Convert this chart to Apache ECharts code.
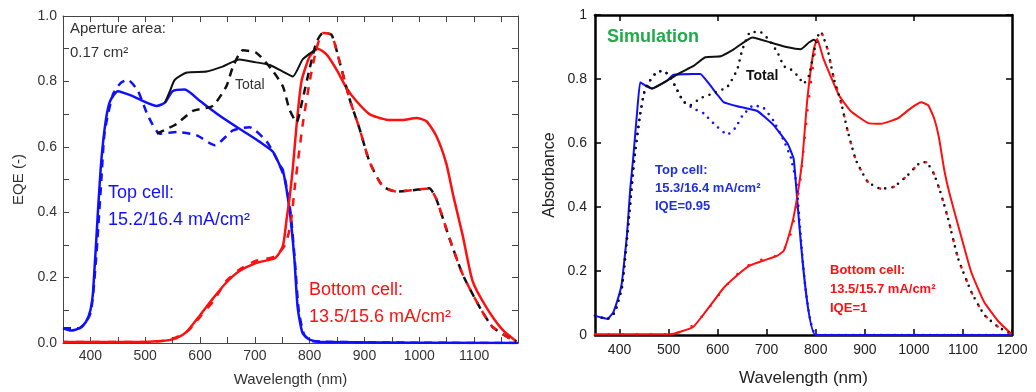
<!DOCTYPE html>
<html><head><meta charset="utf-8">
<script src="https://cdn.jsdelivr.net/npm/echarts@6/dist/echarts.min.js"></script>
<style>html,body{margin:0;padding:0;background:#fff}#c{width:1036px;height:392px}</style>
</head><body><div id="c"></div>
<script>
// ---------- Left panel (measured EQE) ----------
const leftXLabels = [400, 500, 600, 700, 800, 900, 1000, 1100];
const leftXTickMarks = [400, 450, 500, 550, 600, 650, 700, 750, 800, 850, 900, 950, 1000, 1050, 1100, 1150];
const leftYLabels = [0.0, 0.2, 0.4, 0.6, 0.8, 1.0];
const leftYTickMarks = [0.1, 0.2, 0.3, 0.4, 0.5, 0.6, 0.7, 0.8, 0.9];
const leftTopSolid = [[350,0.045],[365,0.038],[380,0.045],[392,0.065],[400,0.10],[405,0.16],[414,0.41],[420,0.56],[428,0.68],[436,0.74],[450,0.77],[477,0.755],[503,0.735],[521,0.725],[536,0.735],[550,0.77],[572,0.775],[600,0.74],[636,0.695],[672,0.655],[709,0.615],[733,0.585],[745,0.545],[751,0.53],[763,0.41],[772,0.26],[778,0.11],[787,0.03],[800,0.01],[820,0.003],[1180,0.0]];
const leftTopDashed = [[350,0.045],[380,0.045],[400,0.09],[410,0.25],[420,0.5],[426,0.645],[441,0.76],[455,0.795],[468,0.805],[487,0.77],[505,0.695],[527,0.64],[558,0.645],[594,0.635],[627,0.605],[660,0.65],[690,0.66],[722,0.615],[742,0.555],[755,0.5],[765,0.40],[773,0.25],[780,0.10],[790,0.025],[805,0.005],[1180,0.0]];
const leftTotalSolid = [[536,0.735],[545,0.77],[554,0.805],[576,0.827],[612,0.83],[641,0.845],[672,0.867],[696,0.86],[727,0.85],[751,0.83],[769,0.815],[787,0.867],[800,0.885],[812,0.90]];
const leftTotalDashed = [[521,0.64],[540,0.655],[557,0.67],[587,0.71],[623,0.725],[648,0.785],[660,0.845],[678,0.895],[703,0.887],[731,0.836],[751,0.785],[763,0.715],[776,0.675],[787,0.745],[800,0.84],[812,0.918],[824,0.948],[840,0.942],[855,0.857],[873,0.745],[891,0.655],[909,0.555],[933,0.48],[958,0.463],[987,0.467],[1018,0.473],[1031,0.44],[1055,0.32],[1079,0.21],[1110,0.11],[1133,0.05],[1159,0.02],[1177,0.005]];
const leftBottomSolid = [[350,0.003],[500,0.003],[521,0.005],[540,0.008],[557,0.015],[576,0.035],[600,0.085],[623,0.135],[648,0.185],[672,0.22],[703,0.245],[737,0.26],[751,0.296],[758,0.38],[763,0.44],[769,0.53],[776,0.665],[785,0.80],[800,0.876],[815,0.90],[831,0.882],[849,0.836],[867,0.78],[885,0.74],[909,0.70],[940,0.683],[969,0.682],[995,0.688],[1013,0.678],[1031,0.633],[1049,0.55],[1062,0.45],[1079,0.33],[1097,0.19],[1122,0.11],[1152,0.04],[1177,0.005]];
const leftBottomDashed = [[350,0.003],[500,0.003],[540,0.008],[560,0.02],[580,0.04],[600,0.08],[625,0.13],[648,0.19],[672,0.225],[700,0.25],[737,0.265],[755,0.30],[765,0.36],[773,0.48],[787,0.665],[800,0.80],[812,0.897],[824,0.948],[840,0.942],[855,0.857],[873,0.745],[891,0.655],[909,0.555],[933,0.48],[958,0.463],[987,0.467],[1018,0.473],[1031,0.44],[1055,0.32],[1079,0.21],[1110,0.11],[1133,0.05],[1159,0.02],[1177,0.005]];

// ---------- Right panel (simulation) ----------
const rightXLabels = [400, 500, 600, 700, 800, 900, 1000, 1100, 1200];
const rightXTopTicks = [400, 600, 800, 1000];
const rightYLabels = [0, 0.2, 0.4, 0.6, 0.8, 1];
const rightTopSolid = [[350,0.06],[362,0.055],[375,0.05],[387,0.07],[400,0.13],[405,0.165],[415,0.31],[422,0.46],[428,0.555],[436,0.70],[442,0.79],[452,0.78],[466,0.77],[497,0.795],[510,0.813],[550,0.816],[565,0.816],[580,0.79],[600,0.75],[612,0.728],[640,0.715],[681,0.70],[714,0.656],[743,0.597],[755,0.55],[800,0.0],[1200,0.0]];
const rightTopDotted = [[350,0.06],[375,0.05],[390,0.07],[405,0.15],[420,0.38],[430,0.55],[442,0.69],[452,0.77],[462,0.795],[476,0.822],[490,0.825],[503,0.807],[518,0.764],[530,0.73],[550,0.708],[571,0.693],[595,0.656],[620,0.626],[636,0.647],[650,0.684],[673,0.718],[694,0.709],[714,0.669],[735,0.607],[749,0.555],[760,0.48],[802,0.0],[1200,0.0]];
const rightTotalSolid = [[455,0.78],[466,0.77],[497,0.795],[524,0.82],[550,0.84],[575,0.868],[606,0.871],[632,0.892],[671,0.93],[708,0.914],[743,0.899],[769,0.893],[786,0.914],[796,0.923],[804,0.914]];
const rightTotalDotted = [[350,0.06],[375,0.05],[390,0.07],[405,0.15],[420,0.38],[430,0.55],[442,0.69],[452,0.77],[462,0.795],[476,0.822],[490,0.825],[503,0.807],[518,0.764],[530,0.73],[544,0.718],[565,0.74],[591,0.755],[620,0.776],[640,0.83],[650,0.89],[667,0.947],[687,0.947],[704,0.923],[722,0.883],[735,0.84],[749,0.83],[765,0.807],[775,0.785],[786,0.81],[796,0.883],[804,0.933],[810,0.948],[824,0.893],[837,0.80],[851,0.73],[865,0.638],[882,0.546],[906,0.479],[933,0.457],[959,0.463],[988,0.50],[1015,0.54],[1025,0.54],[1041,0.503],[1055,0.442],[1070,0.362],[1090,0.24],[1117,0.135],[1143,0.064],[1172,0.025],[1199,0.003]];
const rightBottomSolid = [[350,0.002],[503,0.002],[524,0.01],[550,0.025],[571,0.064],[591,0.104],[612,0.147],[640,0.187],[667,0.218],[694,0.233],[722,0.248],[735,0.264],[745,0.31],[755,0.37],[765,0.46],[773,0.555],[783,0.74],[796,0.893],[803,0.925],[816,0.862],[830,0.81],[847,0.75],[871,0.70],[906,0.663],[933,0.66],[968,0.678],[994,0.709],[1015,0.727],[1029,0.718],[1041,0.678],[1051,0.617],[1062,0.515],[1073,0.44],[1096,0.31],[1117,0.196],[1143,0.104],[1172,0.043],[1199,0.003]];
const rightBottomDotted = [[350,0.002],[503,0.002],[524,0.01],[550,0.03],[575,0.07],[595,0.11],[615,0.15],[640,0.19],[670,0.225],[700,0.24],[725,0.25],[740,0.28],[752,0.33],[760,0.40],[770,0.50],[783,0.70],[796,0.86],[804,0.933],[810,0.948],[824,0.893],[837,0.80],[851,0.73],[865,0.638],[882,0.546],[906,0.479],[933,0.457],[959,0.463],[988,0.50],[1015,0.54],[1025,0.54],[1041,0.503],[1055,0.442],[1070,0.362],[1090,0.24],[1117,0.135],[1143,0.064],[1172,0.025],[1199,0.003]];

const BLUE = '#1010ff', RED = '#ff1010', BLACK = '#111', GREEN = '#22aa4c', BLUE2 = '#2030e0';
const FONT = 'Liberation Sans, Arial, sans-serif';

const chart = echarts.init(document.getElementById('c'), null, {renderer: 'canvas'});

function axL(extra) {
  return Object.assign({
    type: 'value', gridIndex: 0,
    axisLine: {show: true, onZero: false, lineStyle: {color: '#444', width: 1}},
    splitLine: {show: false}
  }, extra);
}
function axR(extra) {
  return Object.assign({
    type: 'value', gridIndex: 1,
    axisLine: {show: true, onZero: false, lineStyle: {color: '#000', width: 2.5}},
    splitLine: {show: false}
  }, extra);
}
const lblL = {color: '#333', fontSize: 14, fontFamily: FONT};
const lblR = {color: '#222', fontSize: 14, fontFamily: FONT};
const tickL = vals => ({show: true, inside: true, length: 6, customValues: vals, lineStyle: {color: '#444', width: 1}});
const tickR = vals => ({show: true, inside: true, length: 6, customValues: vals, lineStyle: {color: '#000', width: 1.5}});

function line(name, data, xi, yi, color, width, type, dashOffset, smooth) {
  return {
    name, type: 'line', data, xAxisIndex: xi, yAxisIndex: yi, showSymbol: false, symbol: 'none',
    smooth: smooth === undefined ? 0.2 : smooth, clip: true, animation: false,
    lineStyle: {color, width, type: type || 'solid', dashOffset: dashOffset || 0,
      cap: (Array.isArray(type) && type[0] === 0) ? 'round' : 'butt', join: 'round'}
  };
}

chart.setOption({
  animation: false,
  grid: [
    {left: 63, top: 16, width: 455, height: 330},
    {left: 595, top: 15, width: 417, height: 326}
  ],
  xAxis: [
    axL({min: 350, max: 1180, position: 'bottom',
      name: 'Wavelength (nm)', nameLocation: 'middle', nameGap: 29,
      nameTextStyle: {color: '#333', fontSize: 15, fontFamily: FONT},
      axisTick: tickL(leftXTickMarks),
      axisLabel: Object.assign({margin: 6, customValues: leftXLabels, formatter: v => String(v)}, lblL)}),
    axL({min: 350, max: 1180, position: 'top',
      axisTick: tickL(leftXTickMarks), axisLabel: {show: false}}),
    axR({min: 350, max: 1200, position: 'bottom',
      name: 'Wavelength (nm)', nameLocation: 'middle', nameGap: 35,
      nameTextStyle: {color: '#222', fontSize: 17, fontFamily: FONT},
      axisTick: tickR(rightXLabels),
      axisLabel: Object.assign({margin: 8, customValues: rightXLabels, formatter: v => String(v)}, lblR)}),
    axR({min: 350, max: 1200, position: 'top',
      axisTick: tickR(rightXTopTicks), axisLabel: {show: false}})
  ],
  yAxis: [
    axL({min: 0, max: 1, position: 'left',
      name: 'EQE (-)', nameLocation: 'middle', nameGap: 37, nameRotate: 90,
      nameTextStyle: {color: '#333', fontSize: 15, fontFamily: FONT},
      axisTick: tickL(leftYTickMarks),
      axisLabel: Object.assign({margin: 6, customValues: leftYLabels, formatter: v => Number(v).toFixed(1)}, lblL)}),
    axL({min: 0, max: 1, position: 'right',
      axisTick: tickL(leftYTickMarks), axisLabel: {show: false}}),
    axR({min: 0, max: 1, position: 'left',
      name: 'Absorbance', nameLocation: 'middle', nameGap: 37, nameRotate: 90,
      nameTextStyle: {color: '#222', fontSize: 16, fontFamily: FONT},
      axisTick: tickR(rightYLabels),
      axisLabel: Object.assign({margin: 8, customValues: rightYLabels, formatter: v => String(Math.round(v * 10) / 10)}, lblR)}),
    axR({min: 0, max: 1, position: 'right',
      axisTick: tickR(rightYLabels), axisLabel: {show: false}})
  ],
  series: [
    // left panel
    line('Top cell (solid)', leftTopSolid, 0, 0, BLUE, 2.5),
    line('Top cell (dashed)', leftTopDashed, 0, 0, BLUE, 2.5, [8, 6]),
    line('Bottom cell (solid)', leftBottomSolid, 0, 0, RED, 2.5),
    line('Total (solid)', leftTotalSolid, 0, 0, BLACK, 2),
    line('Total (dashed)', leftTotalDashed, 0, 0, BLACK, 2.5, [8, 6]),
    line('Bottom cell (dashed)', leftBottomDashed, 0, 0, RED, 2.5, [8, 8], 3),
    // right panel
    line('Top cell sim', rightTopSolid, 2, 2, BLUE, 2, null, 0, 0.1),
    line('Bottom cell sim', rightBottomSolid, 2, 2, RED, 2, null, 0, 0.15),
    line('Total sim', rightTotalSolid, 2, 2, BLACK, 2, null, 0, 0.15),
    line('Top cell dotted', rightTopDotted, 2, 2, BLUE, 2.6, [0, 7], 0, 0.12),
    line('Total dotted', rightTotalDotted, 2, 2, BLACK, 2.6, [0, 7], 0, 0.15),
    line('Bottom cell dotted', rightBottomDotted, 2, 2, RED, 2.6, [0, 14], 0, 0.15)
  ],
  graphic: [
    {type: 'text', left: 70, top: 21, style: {text: 'Aperture area:', font: '15px ' + FONT, fill: '#333'}},
    {type: 'text', left: 70, top: 45, style: {text: '0.17 cm²', font: '15px ' + FONT, fill: '#333'}},
    {type: 'text', left: 235, top: 78, style: {text: 'Total', font: '14px ' + FONT, fill: '#333'}},
    {type: 'text', left: 108, top: 184, style: {text: 'Top cell:', font: '18px ' + FONT, fill: BLUE}},
    {type: 'text', left: 108, top: 211, style: {text: '15.2/16.4 mA/cm²', font: '18px ' + FONT, fill: BLUE}},
    {type: 'text', left: 309, top: 281, style: {text: 'Bottom cell:', font: '18px ' + FONT, fill: RED}},
    {type: 'text', left: 309, top: 308, style: {text: '13.5/15.6 mA/cm²', font: '18px ' + FONT, fill: RED}},

    {type: 'text', left: 607, top: 28, style: {text: 'Simulation', font: 'bold 18px ' + FONT, fill: GREEN}},
    {type: 'text', left: 746, top: 69, style: {text: 'Total', font: 'bold 14px ' + FONT, fill: BLACK}},
    {type: 'text', left: 655, top: 164, style: {text: 'Top cell:', font: 'bold 13px ' + FONT, fill: BLUE2}},
    {type: 'text', left: 655, top: 182, style: {text: '15.3/16.4 mA/cm²', font: 'bold 13px ' + FONT, fill: BLUE2}},
    {type: 'text', left: 655, top: 200, style: {text: 'IQE=0.95', font: 'bold 13px ' + FONT, fill: BLUE2}},
    {type: 'text', left: 830, top: 264, style: {text: 'Bottom cell:', font: 'bold 13px ' + FONT, fill: RED}},
    {type: 'text', left: 830, top: 283, style: {text: '13.5/15.7 mA/cm²', font: 'bold 13px ' + FONT, fill: RED}},
    {type: 'text', left: 830, top: 302, style: {text: 'IQE=1', font: 'bold 13px ' + FONT, fill: RED}}
  ]
});
</script></body></html>
